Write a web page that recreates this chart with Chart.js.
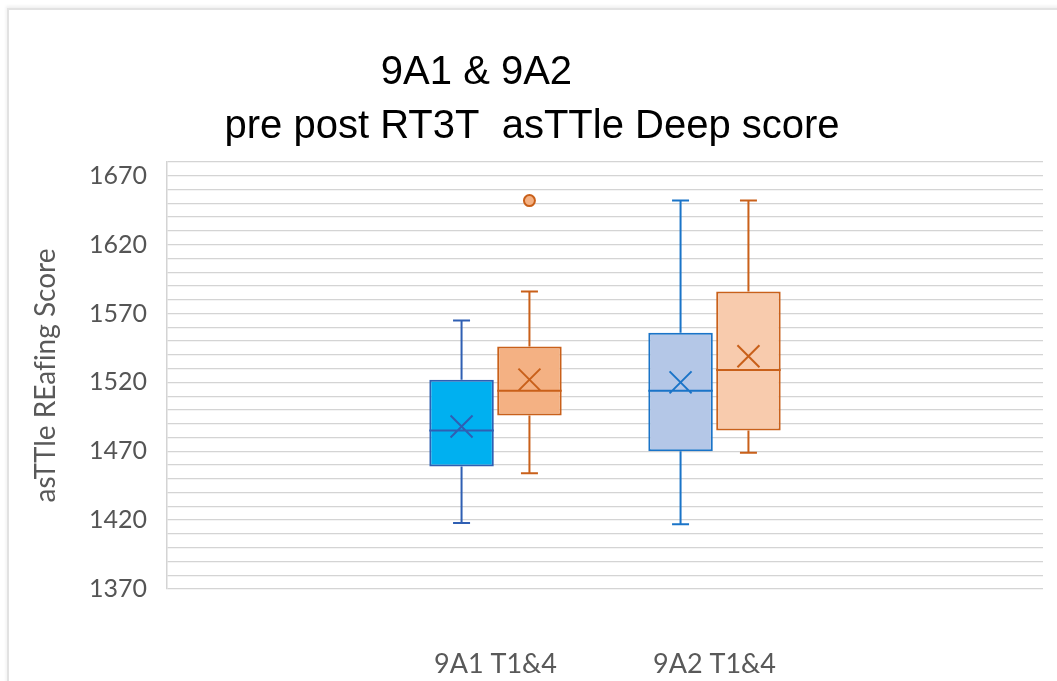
<!DOCTYPE html>
<html>
<head>
<meta charset="utf-8">
<script src="https://cdn.jsdelivr.net/npm/chart.js@4/dist/chart.umd.min.js"></script>
<style>
  html, body { margin: 0; padding: 0; background: #fff; }
  #frame {
    position: absolute; left: 7px; top: 8px; width: 1100px; height: 700px;
    border-left: 2px solid #e2e2e2; border-top: 2px solid #e2e2e2;
    box-shadow: -1px -2px 3px #f0f0f0;
  }
  #chart { position: absolute; left: 0; top: 0; }
</style>
</head>
<body>
<div id="frame"></div>
<canvas id="chart" width="1057" height="681"></canvas>
<script>
// box-and-whisker: 9A1 / 9A2, pre (T1) vs post (T4)
const categories = ["", "9A1 T1&4", "9A2 T1&4", ""]
const seriesNames = ["pre", "post"]

const preMin    = [null, 1418, 1417, null]
const preQ1     = [null, 1459, 1470, null]
const preMedian = [null, 1485, 1514, null]
const preQ3     = [null, 1522, 1556, null]
const preMax    = [null, 1565, 1652, null]
const preMean   = [null, 1488, 1520, null]

const postMin    = [null, 1454, 1469, null]
const postQ1     = [null, 1496, 1485, null]
const postMedian = [null, 1514, 1529, null]
const postQ3     = [null, 1546, 1586, null]
const postMax    = [null, 1586, 1652, null]
const postMean   = [null, 1522, 1539, null]
const postOutliers = [[], [1652], [], []]
const preOutliers  = [[], [], [], []]

const yMin = 1370
const yMax = 1680
const yLabelStep = 50

const stats = [
  { min: preMin, q1: preQ1, med: preMedian, q3: preQ3, max: preMax, mean: preMean, out: preOutliers },
  { min: postMin, q1: postQ1, med: postMedian, q3: postQ3, max: postMax, mean: postMean, out: postOutliers },
]

const preFill = [null, "#00b0f0", "#b4c7e7", null]
const preLine = [null, "#2f5fb3", "#1a74c8", null]
const postFill = [null, "#f4b183", "#f8cbad", null]
const postLine = [null, "#c9601a", "#c9601a", null]

const boxes = (lo, hi) => lo.map((v, i) => (v == null ? null : [v, hi[i]]))

// whiskers, median, mean cross and outliers, drawn through the chart's scales
const boxWhiskerPlugin = {
  id: "boxWhisker",
  afterDatasetsDraw(chart) {
    const { ctx } = chart
    const y = chart.scales.y
    chart.data.datasets.forEach((ds, di) => {
      const meta = chart.getDatasetMeta(di)
      const s = stats[di]
      meta.data.forEach((bar, i) => {
        if (s.q1[i] == null) return
        const color = ds.borderColor[i]
        const cx = bar.x
        const half = bar.width / 2
        const cap = 8.5
        ctx.save()
        ctx.strokeStyle = color
        ctx.lineWidth = 2
        ctx.beginPath()
        // upper whisker
        ctx.moveTo(cx, y.getPixelForValue(s.q3[i]))
        ctx.lineTo(cx, y.getPixelForValue(s.max[i]))
        ctx.moveTo(cx - cap, y.getPixelForValue(s.max[i]))
        ctx.lineTo(cx + cap, y.getPixelForValue(s.max[i]))
        // lower whisker
        ctx.moveTo(cx, y.getPixelForValue(s.q1[i]))
        ctx.lineTo(cx, y.getPixelForValue(s.min[i]))
        ctx.moveTo(cx - cap, y.getPixelForValue(s.min[i]))
        ctx.lineTo(cx + cap, y.getPixelForValue(s.min[i]))
        // median
        ctx.moveTo(cx - half, y.getPixelForValue(s.med[i]))
        ctx.lineTo(cx + half, y.getPixelForValue(s.med[i]))
        // mean marker (x)
        const my = y.getPixelForValue(s.mean[i])
        const r = 11
        ctx.moveTo(cx - r, my - r)
        ctx.lineTo(cx + r, my + r)
        ctx.moveTo(cx + r, my - r)
        ctx.lineTo(cx - r, my + r)
        ctx.stroke()
        // outliers
        s.out[i].forEach(v => {
          ctx.beginPath()
          ctx.arc(cx, y.getPixelForValue(v), 5.5, 0, Math.PI * 2)
          ctx.fillStyle = ds.backgroundColor[i]
          ctx.fill()
          ctx.stroke()
        })
        ctx.restore()
      })
    })
  },
}

new Chart(document.getElementById("chart"), {
  type: "bar",
  data: {
    labels: categories,
    datasets: [
      {
        label: seriesNames[0],
        data: boxes(preQ1, preQ3),
        backgroundColor: preFill,
        borderColor: preLine,
        borderWidth: 2,
        borderSkipped: false,
        categoryPercentage: 0.62,
        barPercentage: 0.95,
      },
      {
        label: seriesNames[1],
        data: boxes(postQ1, postQ3),
        backgroundColor: postFill,
        borderColor: postLine,
        borderWidth: 2,
        borderSkipped: false,
        categoryPercentage: 0.62,
        barPercentage: 0.95,
      },
    ],
  },
  options: {
    responsive: false,
    animation: false,
    layout: { padding: { left: 10, right: 14, top: 0, bottom: 0 } },
    plugins: {
      legend: { display: false },
      tooltip: { enabled: false },
      title: {
        display: true,
        text: ["9A1 & 9A2         ", " pre post RT3T  asTTle Deep score"],
        color: "#000",
        font: { family: "'Liberation Sans', Arial, sans-serif", size: 40, weight: "normal", lineHeight: 1.35 },
        padding: { top: 46, bottom: 8 },
      },
    },
    scales: {
      x: {
        grid: { display: false },
        border: { display: false },
        ticks: {
          color: "#595959",
          font: { family: "Lato, sans-serif", size: 27 },
          padding: 51,
        },
        afterFit: (scale) => { scale.height = 92 },
      },
      y: {
        min: yMin,
        max: yMax,
        grid: { color: "#d4d4d4", lineWidth: 1.3, drawTicks: false },
        border: { display: true, color: "#d4d4d4", width: 1.5 },
        ticks: {
          stepSize: 10,
          autoSkip: false,
          color: "#555555",
          font: { family: "Lato, sans-serif", size: 25 },
          padding: 20,
          callback: (v) => ((v - yMin) % yLabelStep === 0 ? String(v) : ""),
        },
        title: {
          display: true,
          // zero-width non-joiner keeps "f" and "i" from fusing into a ligature
          text: "asTTle REaf\u200Cing Score",
          color: "#595959",
          font: { family: "Lato, sans-serif", size: 28 },
          padding: { top: 19, bottom: 0 },
        },
        afterFit: (scale) => { scale.width = 157 },
      },
    },
  },
  plugins: [boxWhiskerPlugin],
})
</script>
</body>
</html>
